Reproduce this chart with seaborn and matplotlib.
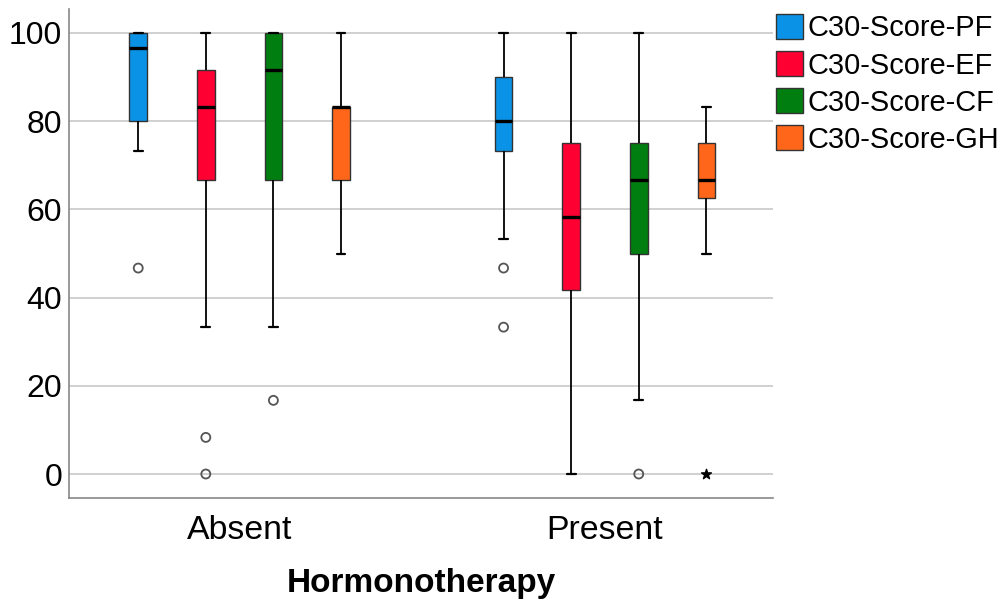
import numpy as np
import pandas as pd
import matplotlib
matplotlib.use("Agg")
import matplotlib.pyplot as plt
import seaborn as sns

# Box summaries: [lower whisker, Q1, median, Q3, upper whisker]
groups = ["Absent", "Present"]
scores = ["C30-Score-PF", "C30-Score-EF", "C30-Score-CF", "C30-Score-GH"]

absent_pf = [73.3, 80.0, 96.7, 100.0, 100.0]
absent_ef = [33.3, 66.7, 83.3, 91.7, 100.0]
absent_cf = [33.3, 66.7, 91.7, 100.0, 100.0]
absent_gh = [50.0, 66.7, 83.3, 83.3, 100.0]

present_pf = [53.3, 73.3, 80.0, 90.0, 100.0]
present_ef = [0.0, 41.7, 58.3, 75.0, 100.0]
present_cf = [16.7, 50.0, 66.7, 75.0, 100.0]
present_gh = [50.0, 62.5, 66.7, 75.0, 83.3]

# outliers (circles) and extremes (stars)
outlier_group = ["Absent", "Absent", "Absent", "Absent", "Present", "Present", "Present"]
outlier_score = ["C30-Score-PF", "C30-Score-EF", "C30-Score-EF", "C30-Score-CF",
                 "C30-Score-PF", "C30-Score-PF", "C30-Score-CF"]
outlier_value = [46.7, 8.3, 0.0, 16.7, 46.7, 33.3, 0.0]

extreme_group = ["Present"]
extreme_score = ["C30-Score-GH"]
extreme_value = [0.0]

colors = ["#0A93E6", "#FF0033", "#007F10", "#FF661A"]

boxes = {
    ("Absent", scores[0]): absent_pf, ("Absent", scores[1]): absent_ef,
    ("Absent", scores[2]): absent_cf, ("Absent", scores[3]): absent_gh,
    ("Present", scores[0]): present_pf, ("Present", scores[1]): present_ef,
    ("Present", scores[2]): present_cf, ("Present", scores[3]): present_gh,
}
rows = []
for (g, s), vals in boxes.items():
    for v in vals:
        rows.append({"Hormonotherapy": g, "Score": s, "Value": v})
df = pd.DataFrame(rows)

sns.set_theme(style="white")
plt.rcParams["font.family"] = ["Liberation Sans", "DejaVu Sans"]
plt.rcParams["text.color"] = "black"

fig = plt.figure(figsize=(10.01, 6.02), dpi=100)
ax = fig.add_axes([69 / 1001, 104 / 602, 704 / 1001, 489 / 602])

WIDTH = 0.74
sns.boxplot(data=df, x="Hormonotherapy", y="Value", hue="Score",
            order=groups, hue_order=scores, palette=colors,
            whis=(0, 100), showfliers=False, width=WIDTH, gap=0.74,
            linewidth=1.0, linecolor="#333333", saturation=1,
            medianprops={"color": "black", "linewidth": 2.4},
            whiskerprops={"color": "black", "linewidth": 1.3},
            capprops={"color": "black", "linewidth": 1.6},
            ax=ax)

# place outlier markers at the same dodged positions as the boxes
def dodge_x(g, s):
    return groups.index(g) + (scores.index(s) + 0.5) * WIDTH / len(scores) - WIDTH / 2

ox = [dodge_x(g, s) for g, s in zip(outlier_group, outlier_score)]
ax.scatter(ox, outlier_value, s=42, facecolors="none", edgecolors="#555555",
           linewidths=1.3, zorder=5)
ex = [dodge_x(g, s) for g, s in zip(extreme_group, extreme_score)]
ax.scatter(ex, extreme_value, s=55, marker="*", color="black", zorder=5)

ax.set_xlim(-0.467, 1.460)
ax.set_ylim(-5.44, 105.44)
ax.set_yticks([0, 20, 40, 60, 80, 100])
ax.yaxis.grid(True, color="#d0d0d0", linewidth=1.4)
ax.set_axisbelow(True)
for side in ["top", "right"]:
    ax.spines[side].set_visible(False)
for side in ["left", "bottom"]:
    ax.spines[side].set_color("#888888")
    ax.spines[side].set_linewidth(1.2)
ax.tick_params(axis="y", length=0, pad=5, labelsize=23, labelcolor="black")
ax.tick_params(axis="x", length=0, pad=12, labelsize=24.4, labelcolor="black")
ax.set_ylabel("")
ax.set_xlabel("Hormonotherapy", fontsize=24, fontweight="bold", labelpad=16,
              color="black")

sns.move_legend(ax, "upper left", bbox_to_anchor=(776 / 1001, 1 - 14 / 602),
                bbox_transform=fig.transFigure, title=None, frameon=False,
                fontsize=20.9, borderpad=0, borderaxespad=0,
                handlelength=0.94, handleheight=0.94, handletextpad=0.15,
                labelspacing=0.3)
leg = ax.get_legend()
for h in leg.legend_handles:
    h.set_edgecolor("#333333")
    h.set_linewidth(1.0)
for t in leg.get_texts():
    t.set_color("black")

fig.savefig("out.png", dpi=100)
